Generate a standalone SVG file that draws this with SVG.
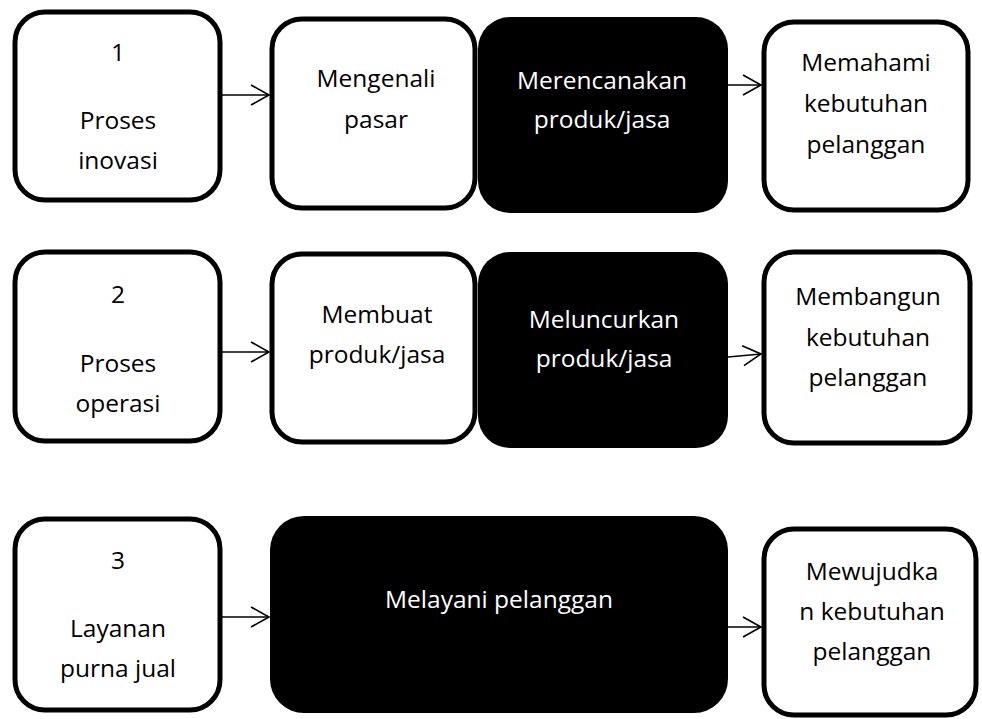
<svg xmlns="http://www.w3.org/2000/svg" width="982" height="719" viewBox="0 0 982 719">
<style>
.w{fill:#fff;stroke:#000;stroke-width:5}
.b{fill:#000;stroke:none}
text{font-family:"Open Sans","Noto Sans",sans-serif;font-size:24.5px;text-anchor:middle}
.tw{fill:#000}
.tb{fill:#fff}
.c{stroke:#000;stroke-width:1.6;fill:none;marker-end:url(#ah)}
</style>
<defs>
<marker id="ah" markerUnits="userSpaceOnUse" markerWidth="24" markerHeight="24" refX="19" refY="11" orient="auto">
<path d="M1,1 L19,11 L1,21" fill="none" stroke="#000" stroke-width="1.6"/>
</marker>
</defs>
<rect width="982" height="719" fill="#fff"/>
<g id="connectors">
<line class="c" x1="222" y1="95" x2="269" y2="95"/>
<line class="c" x1="728" y1="85" x2="761" y2="85"/>
<line class="c" x1="222" y1="352" x2="269" y2="352"/>
<line class="c" x1="728" y1="357" x2="761" y2="354"/>
<line class="c" x1="222" y1="617" x2="269" y2="617"/>
<line class="c" x1="728" y1="627" x2="761" y2="627"/>
</g>
<g id="n1">
<rect class="w" x="15" y="12" width="205" height="188" rx="30"/>
<text class="tw" x="118" y="61">1</text>
<text class="tw" x="118" y="129">Proses</text>
<text class="tw" x="118" y="169">inovasi</text>
</g>
<g id="n1a">
<rect class="w" x="272" y="19" width="203" height="189" rx="30"/>
<text class="tw" x="376" y="87">Mengenali</text>
<text class="tw" x="376" y="128">pasar</text>
</g>
<g id="n1b">
<rect class="b" x="478" y="17" width="250" height="196" rx="32"/>
<text class="tb" x="602" y="89">Merencanakan</text>
<text class="tb" x="602" y="128">produk/jasa</text>
</g>
<g id="n1c">
<rect class="w" x="764" y="22" width="204" height="188" rx="30"/>
<text class="tw" x="866" y="71">Memahami</text>
<text class="tw" x="866" y="112">kebutuhan</text>
<text class="tw" x="866" y="153">pelanggan</text>
</g>
<g id="n2">
<rect class="w" x="15" y="252" width="205" height="189" rx="30"/>
<text class="tw" x="118" y="303">2</text>
<text class="tw" x="118" y="372">Proses</text>
<text class="tw" x="118" y="412">operasi</text>
</g>
<g id="n2a">
<rect class="w" x="272" y="254" width="203" height="188" rx="30"/>
<text class="tw" x="377" y="323">Membuat</text>
<text class="tw" x="377" y="363">produk/jasa</text>
</g>
<g id="n2b">
<rect class="b" x="478" y="252" width="250" height="196" rx="32"/>
<text class="tb" x="604" y="328">Meluncurkan</text>
<text class="tb" x="604" y="367">produk/jasa</text>
</g>
<g id="n2c">
<rect class="w" x="764" y="252" width="206" height="191" rx="30"/>
<text class="tw" x="868" y="305">Membangun</text>
<text class="tw" x="868" y="346">kebutuhan</text>
<text class="tw" x="868" y="386">pelanggan</text>
</g>
<g id="n3">
<rect class="w" x="15" y="519" width="205" height="191" rx="30"/>
<text class="tw" x="118" y="569">3</text>
<text class="tw" x="118" y="637">Layanan</text>
<text class="tw" x="118" y="677">purna jual</text>
</g>
<g id="n3a">
<rect class="b" x="270" y="516" width="458" height="197" rx="34"/>
<text class="tb" x="499" y="608">Melayani pelanggan</text>
</g>
<g id="n3b">
<rect class="w" x="764" y="529" width="212" height="186" rx="30"/>
<text class="tw" x="872" y="580">Mewujudka</text>
<text class="tw" x="872" y="620">n kebutuhan</text>
<text class="tw" x="872" y="660">pelanggan</text>
</g>
</svg>
